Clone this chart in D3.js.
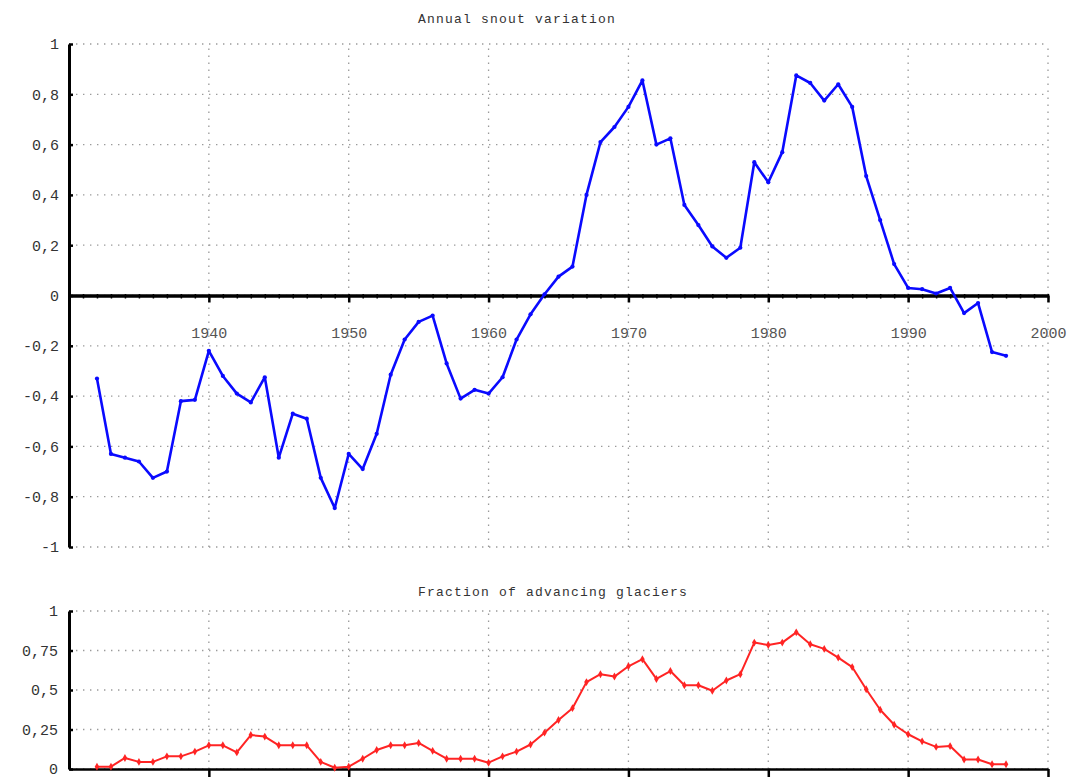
<!DOCTYPE html>
<html>
<head>
<meta charset="utf-8">
<script src="https://cdn.jsdelivr.net/npm/d3@7"></script>
<style>
  body { margin: 0; background: #fff; }
  text { font-family: "Liberation Mono", "DejaVu Sans Mono", monospace; }
</style>
</head>
<body>
<div id="chart"></div>
<script>
// Values
const YEARS = [
  1932, 1933, 1934, 1935, 1936, 1937, 1938, 1939, 1940, 1941,
  1942, 1943, 1944, 1945, 1946, 1947, 1948, 1949, 1950, 1951,
  1952, 1953, 1954, 1955, 1956, 1957, 1958, 1959, 1960, 1961,
  1962, 1963, 1964, 1965, 1966, 1967, 1968, 1969, 1970, 1971,
  1972, 1973, 1974, 1975, 1976, 1977, 1978, 1979, 1980, 1981,
  1982, 1983, 1984, 1985, 1986, 1987, 1988, 1989, 1990, 1991,
  1992, 1993, 1994, 1995, 1996, 1997
];

const SNOUT_VARIATION = [
  -0.33, -0.63, -0.645, -0.66, -0.725, -0.70, -0.42, -0.415, -0.22, -0.32,
  -0.39, -0.425, -0.325, -0.645, -0.47, -0.49, -0.725, -0.845, -0.63, -0.69,
  -0.55, -0.315, -0.175, -0.105, -0.08, -0.27, -0.41, -0.375, -0.39, -0.325,
  -0.175, -0.075, 0.005, 0.075, 0.115, 0.40, 0.61, 0.67, 0.75, 0.855,
  0.60, 0.625, 0.36, 0.28, 0.195, 0.15, 0.19, 0.53, 0.45, 0.57,
  0.875, 0.845, 0.775, 0.84, 0.75, 0.475, 0.30, 0.125, 0.03, 0.025,
  0.008, 0.03, -0.07, -0.03, -0.225, -0.24
];

const ADVANCING_FRACTION = [
  0.015, 0.015, 0.07, 0.045, 0.045, 0.08, 0.08, 0.11, 0.15, 0.15,
  0.105, 0.215, 0.205, 0.15, 0.15, 0.15, 0.045, 0.008, 0.015, 0.065,
  0.12, 0.15, 0.15, 0.165, 0.115, 0.065, 0.065, 0.065, 0.04, 0.08,
  0.11, 0.155, 0.23, 0.31, 0.385, 0.55, 0.60, 0.585, 0.65, 0.695,
  0.57, 0.62, 0.53, 0.53, 0.495, 0.56, 0.60, 0.80, 0.785, 0.80,
  0.865, 0.79, 0.76, 0.705, 0.645, 0.505, 0.375, 0.28, 0.22, 0.175,
  0.14, 0.145, 0.06, 0.06, 0.03, 0.03
];

const DECADES = [1940, 1950, 1960, 1970, 1980, 1990, 2000];
const SNOUT_TICKS = [-1, -0.8, -0.6, -0.4, -0.2, 0, 0.2, 0.4, 0.6, 0.8, 1];
const FRACTION_TICKS = [0, 0.25, 0.5, 0.75, 1];

// Constants
const width = 1077;
const height = 782;
const COLOR_SNOUT = "#0a0aff";
const COLOR_FRACTION = "#ff2424";
const GRID_COLOR = "#9a9a9a";

// Comma as decimal separator, plain hyphen for minus
const fmt = d => String(+d.toFixed(2)).replace(".", ",");

const svg = d3.select("#chart")
  .append("svg")
  .attr("width", width)
  .attr("height", height)
  .style("background", "#fff");

const x = d3.scaleLinear().domain([1930, 2000]).range([69, 1048]);
const yTop = d3.scaleLinear().domain([-1, 1]).range([547, 44]);
const yBot = d3.scaleLinear().domain([0, 1]).range([769, 611]);

// Dotted grid for one panel
function drawGrid(yScale, ticks) {
  const g = svg.append("g")
    .attr("stroke", GRID_COLOR)
    .attr("stroke-width", 1.3)
    .attr("stroke-dasharray", "1.4,5.6");
  g.selectAll(".hgrid")
    .data(ticks)
    .join("line")
    .attr("x1", x.range()[0])
    .attr("x2", x.range()[1])
    .attr("y1", d => yScale(d))
    .attr("y2", d => yScale(d));
  g.selectAll(".vgrid")
    .data(DECADES)
    .join("line")
    .attr("x1", d => x(d))
    .attr("x2", d => x(d))
    .attr("y1", yScale.range()[0])
    .attr("y2", yScale.range()[1]);
}

// Style an axis group: thick black line, dark labels
function styleAxis(g, domainWidth) {
  g.select(".domain").attr("stroke", "#000").attr("stroke-width", domainWidth);
  g.selectAll(".tick line").attr("stroke", "#000").attr("stroke-width", 2.5);
  g.selectAll(".tick text")
    .attr("fill", "#333")
    .attr("font-size", "15px")
    .style("font-family", '"Liberation Mono", "DejaVu Sans Mono", monospace');
}

// Line + markers for one series
function drawSeries(values, yScale, color, lineWidth, symbol, symbolSize) {
  const data = YEARS.map((yr, i) => ({ year: yr, value: values[i] }));
  svg.append("path")
    .datum(data)
    .attr("fill", "none")
    .attr("stroke", color)
    .attr("stroke-width", lineWidth)
    .attr("stroke-linejoin", "round")
    .attr("d", d3.line().x(d => x(d.year)).y(d => yScale(d.value)));
  svg.append("g")
    .selectAll("path")
    .data(data)
    .join("path")
    .attr("transform", d => `translate(${x(d.year)},${yScale(d.value)})`)
    .attr("d", d3.symbol().type(symbol).size(symbolSize))
    .attr("fill", color);
}

// ---------- Top panel: annual snout variation ----------
drawGrid(yTop, SNOUT_TICKS);

const topY = svg.append("g")
  .attr("transform", `translate(${x.range()[0]},0)`)
  .call(d3.axisLeft(yTop).tickValues(SNOUT_TICKS).tickFormat(fmt)
    .tickSizeInner(-4).tickSizeOuter(0).tickPadding(10));
styleAxis(topY, 3);

// Zero line: minor ticks every year, longer ticks at decades
const zeroMinor = svg.append("g")
  .attr("transform", `translate(0,${yTop(0)})`)
  .call(d3.axisBottom(x).tickValues(d3.range(1930, 2001)).tickFormat("")
    .tickSizeInner(3).tickSizeOuter(0));
styleAxis(zeroMinor, 3);
zeroMinor.selectAll(".tick line").attr("stroke-width", 1.5).attr("y1", -1.5);

const zeroMajor = svg.append("g")
  .attr("transform", `translate(0,${yTop(0)})`)
  .call(d3.axisBottom(x).tickValues(DECADES).tickFormat(d3.format("d"))
    .tickSizeInner(7).tickSizeOuter(0).tickPadding(25));
styleAxis(zeroMajor, 3);
zeroMajor.selectAll(".tick text").attr("fill", "#555");

svg.append("text")
  .attr("x", 517)
  .attr("y", 20)
  .attr("text-anchor", "middle")
  .attr("dominant-baseline", "middle")
  .attr("font-size", "13px")
  .attr("letter-spacing", "1.2px")
  .attr("fill", "#333")
  .text("Annual snout variation");

drawSeries(SNOUT_VARIATION, yTop, COLOR_SNOUT, 2.6, d3.symbolCircle, 14);

// ---------- Bottom panel: fraction of advancing glaciers ----------
drawGrid(yBot, FRACTION_TICKS);

const botY = svg.append("g")
  .attr("transform", `translate(${x.range()[0]},0)`)
  .call(d3.axisLeft(yBot).tickValues(FRACTION_TICKS).tickFormat(fmt)
    .tickSizeInner(-4).tickSizeOuter(0).tickPadding(11));
styleAxis(botY, 3);

const botX = svg.append("g")
  .attr("transform", `translate(0,${yBot(0)})`)
  .call(d3.axisBottom(x).tickValues(DECADES).tickFormat("")
    .tickSizeInner(8).tickSizeOuter(0));
styleAxis(botX, 2.5);

svg.append("text")
  .attr("x", 553)
  .attr("y", 593)
  .attr("text-anchor", "middle")
  .attr("dominant-baseline", "middle")
  .attr("font-size", "13px")
  .attr("letter-spacing", "1.2px")
  .attr("fill", "#333")
  .text("Fraction of advancing glaciers");

drawSeries(ADVANCING_FRACTION, yBot, COLOR_FRACTION, 2, d3.symbolDiamond, 18);
</script>
</body>
</html>
